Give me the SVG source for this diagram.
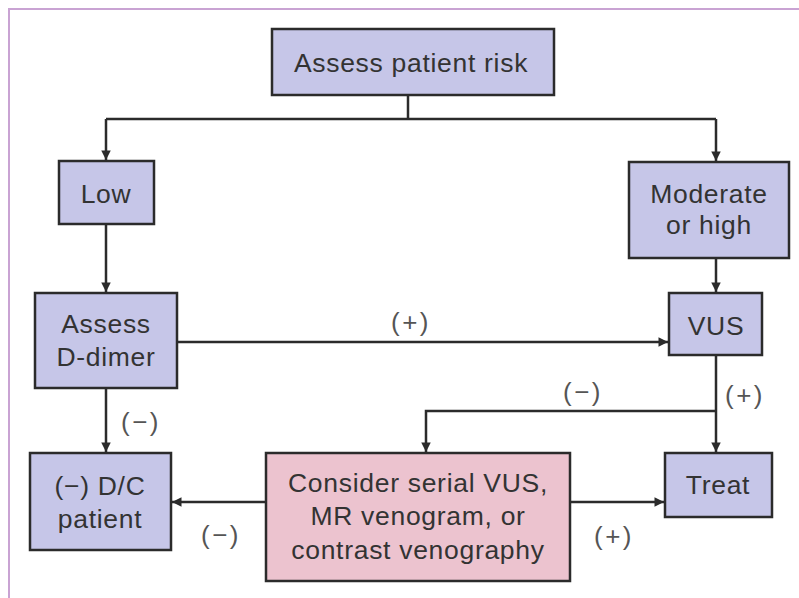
<svg xmlns="http://www.w3.org/2000/svg" width="799" height="598" viewBox="0 0 799 598">
<style>
.n{fill:#c6c6e8;stroke:#2b2b2b;stroke-width:2.5}
.p{fill:#ecc3cf;stroke:#2b2b2b;stroke-width:2.5}
.t{font-family:"Liberation Sans",Arial,sans-serif;font-size:26.5px;letter-spacing:0.7px;fill:#333;text-anchor:middle}
.l{font-family:"Liberation Sans",Arial,sans-serif;font-size:26px;letter-spacing:2.5px;fill:#555;text-anchor:middle}
.c{fill:none;stroke:#2b2b2b;stroke-width:2.5}
</style>
<defs>
<marker id="a" viewBox="0 0 10 10" refX="10" refY="5" markerWidth="5" markerHeight="3.8" markerUnits="strokeWidth" orient="auto">
<path d="M0,0 L10,5 L0,10 z" fill="#2b2b2b"/>
</marker>
</defs>
<rect width="799" height="598" fill="#fff"/>
<path d="M9,598 V9 H799" fill="none" stroke="#c9a3d3" stroke-width="2"/>
<g id="connectors">
<path class="c" d="M408,95 V119"/>
<path class="c" d="M106,119 H716"/>
<path class="c" d="M106,119 V160" marker-end="url(#a)"/>
<path class="c" d="M716,119 V161" marker-end="url(#a)"/>
<path class="c" d="M106,224 V292" marker-end="url(#a)"/>
<path class="c" d="M716,258 V292" marker-end="url(#a)"/>
<path class="c" d="M177,342 H668" marker-end="url(#a)"/>
<path class="c" d="M716,355 V452" marker-end="url(#a)"/>
<path class="c" d="M716,411 H426 V452" marker-end="url(#a)"/>
<path class="c" d="M106,388 V452" marker-end="url(#a)"/>
<path class="c" d="M266,502 H172" marker-end="url(#a)"/>
<path class="c" d="M570,502 H664" marker-end="url(#a)"/>
<text class="l" x="411" y="331">(+)</text>
<text class="l" x="583" y="401">(−)</text>
<text class="l" x="745" y="404">(+)</text>
<text class="l" x="141" y="431">(−)</text>
<text class="l" x="221" y="544">(−)</text>
<text class="l" x="614" y="545">(+)</text>
</g>
<g id="risk"><rect class="n" x="272" y="29" width="282" height="66"/><text class="t" x="411" y="72">Assess patient risk</text></g>
<g id="low"><rect class="n" x="59" y="161" width="95" height="63"/><text class="t" x="106" y="203">Low</text></g>
<g id="moderate"><rect class="n" x="629" y="162" width="160" height="96"/><text class="t" x="709" y="203">Moderate</text><text class="t" x="709" y="234">or high</text></g>
<g id="ddimer"><rect class="n" x="35" y="293" width="142" height="95"/><text class="t" x="106" y="333">Assess</text><text class="t" x="106" y="366">D-dimer</text></g>
<g id="vus"><rect class="n" x="669" y="293" width="93" height="62"/><text class="t" x="716" y="335">VUS</text></g>
<g id="dc"><rect class="n" x="30" y="453" width="141" height="97"/><text class="t" x="100" y="495">(−) D/C</text><text class="t" x="100" y="528">patient</text></g>
<g id="consider"><rect class="p" x="266" y="453" width="304" height="128"/><text class="t" x="418" y="492">Consider serial VUS,</text><text class="t" x="418" y="525">MR venogram, or</text><text class="t" x="418" y="559">contrast venography</text></g>
<g id="treat"><rect class="n" x="665" y="453" width="107" height="64"/><text class="t" x="718" y="494">Treat</text></g>
</svg>
